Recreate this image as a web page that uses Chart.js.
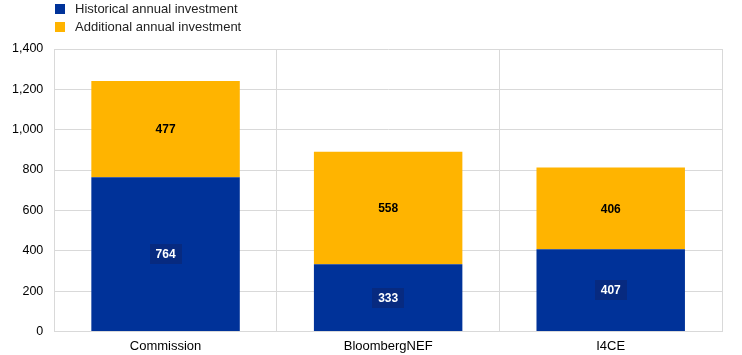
<!DOCTYPE html>
<html>
<head>
<meta charset="utf-8">
<script src="https://cdn.jsdelivr.net/npm/chart.js@4.4.0/dist/chart.umd.min.js"></script>
<style>
html,body{margin:0;padding:0;background:#fff;overflow:hidden;}
#wrap{position:relative;width:742px;height:355px;font-family:Arial,"Liberation Sans",sans-serif;}
#legend{position:absolute;left:55px;top:0px;font-size:13px;color:#222;line-height:18px;}
#legend .it{display:flex;align-items:center;height:18px;}
#legend .sw{width:10px;height:10px;margin-right:10px;display:inline-block;}
canvas{position:absolute;left:0;top:0;}
</style>
</head>
<body>
<div id="wrap">
<canvas id="c" width="742" height="355"></canvas>
<div id="legend"></div>
</div>
<script>
const categories = ["Commission", "BloombergNEF", "I4CE"];
const historical = [764, 333, 407];
const additional = [477, 558, 406];
const seriesNames = ["Historical annual investment", "Additional annual investment"];
const colors = ["#003299", "#FFB400"];

const leg = document.getElementById('legend');
seriesNames.forEach((n,i)=>{
  const d=document.createElement('div');d.className='it';
  d.innerHTML='<span class="sw" style="background:'+colors[i]+'"></span><span>'+n+'</span>';
  leg.appendChild(d);
});

const labelPlugin = {
  id:'barLabels',
  afterDatasetsDraw(chart){
    const ctx=chart.ctx;
    ctx.save();
    ctx.font='bold 12px Arial, "Liberation Sans", sans-serif';
    ctx.textAlign='center';ctx.textBaseline='middle';
    chart.data.datasets.forEach((ds,di)=>{
      const meta=chart.getDatasetMeta(di);
      meta.data.forEach((bar,i)=>{
        const v=ds.data[i];
        const txt=String(v);
        const y=(bar.y+bar.base)/2;
        const x=bar.x;
        if(di===0){
          const w=ctx.measureText(txt).width+12;
          ctx.fillStyle='#072a80';
          ctx.fillRect(Math.round(x-w/2),Math.round(y-10),Math.round(w),20);
          ctx.fillStyle='#ffffff';
        } else {
          ctx.fillStyle='#000000';
        }
        ctx.fillText(txt,x,y+1);
      });
    });
    ctx.restore();
  }
};

new Chart(document.getElementById('c'),{
  type:'bar',
  data:{
    labels:categories,
    datasets:[
      {label:seriesNames[0],data:historical,backgroundColor:colors[0],barPercentage:0.667,categoryPercentage:1},
      {label:seriesNames[1],data:additional,backgroundColor:colors[1],barPercentage:0.667,categoryPercentage:1}
    ]
  },
  options:{
    responsive:false,animation:false,
    layout:{padding:{left:1,right:20,top:49,bottom:-6}},
    plugins:{legend:{display:false},tooltip:{enabled:false}},
    scales:{
      x:{stacked:true,
        grid:{color:'#d9d9d9',drawTicks:false,offset:true},
        border:{color:'#d9d9d9'},
        ticks:{color:'#000',font:{family:'Arial, "Liberation Sans", sans-serif',size:13},padding:7}
      },
      y:{stacked:true,min:0,max:1400,
        grid:{color:'#d9d9d9',drawTicks:false},
        border:{color:'#d9d9d9'},
        ticks:{stepSize:200,color:'#000',font:{family:'Arial, "Liberation Sans", sans-serif',size:12.5},padding:11,
          callback:v=>v.toLocaleString('en-US')}
      }
    }
  },
  plugins:[labelPlugin]
});
</script>
</body>
</html>
